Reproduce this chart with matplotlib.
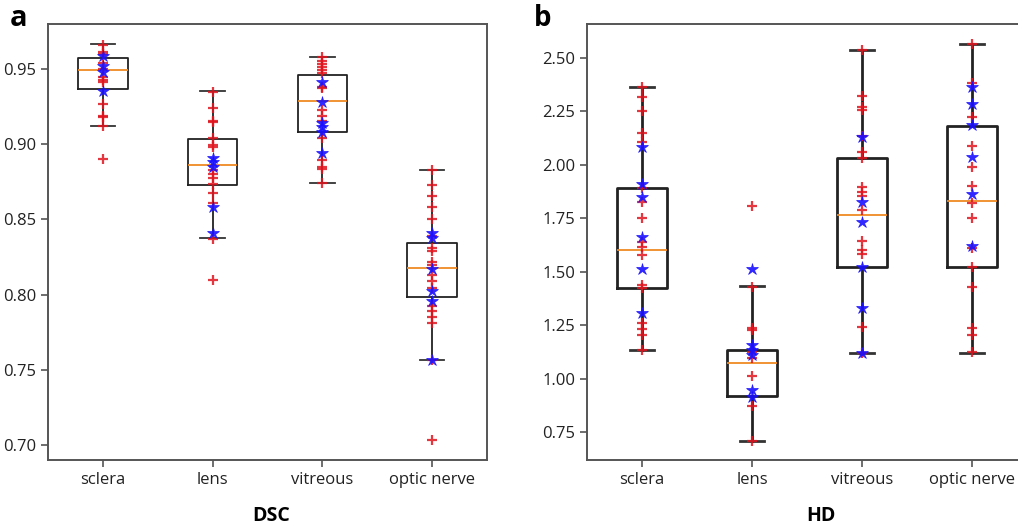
import matplotlib
matplotlib.use('Agg')
import matplotlib.pyplot as plt

plt.rcParams['font.family'] = ['Open Sans', 'DejaVu Sans']

organs = ['sclera', 'lens', 'vitreous', 'optic nerve']

# box statistics (q1, median, q3, whisker ends)
dsc_q1 = [0.937, 0.8728, 0.9082, 0.7982]
dsc_med = [0.9493, 0.8863, 0.929, 0.8174]
dsc_q3 = [0.9575, 0.9035, 0.946, 0.8343]
dsc_lo = [0.912, 0.8376, 0.874, 0.7563]
dsc_hi = [0.9664, 0.9352, 0.9578, 0.8829]

hd_q1 = [1.425, 0.918, 1.523, 1.520]
hd_med = [1.601, 1.074, 1.764, 1.831]
hd_q3 = [1.890, 1.134, 2.032, 2.183]
hd_lo = [1.134, 0.709, 1.121, 1.121]
hd_hi = [2.366, 1.434, 2.539, 2.566]

# individual cases: red plus and blue star markers
dsc_plus = [
    [0.966, 0.9615, 0.960, 0.9538, 0.9498, 0.945, 0.9427, 0.9412, 0.9268, 0.919, 0.918, 0.912, 0.890],
    [0.935, 0.924, 0.9157, 0.915, 0.904, 0.8995, 0.898, 0.883, 0.880, 0.8774, 0.8736, 0.8675, 0.8608, 0.837, 0.810],
    [0.958, 0.9555, 0.9533, 0.9515, 0.9493, 0.9471, 0.9382, 0.9372, 0.9228, 0.9188, 0.9157, 0.904, 0.8896, 0.8852, 0.8834, 0.874],
    [0.883, 0.873, 0.8659, 0.8586, 0.8504, 0.8387, 0.831, 0.8287, 0.822, 0.820, 0.8133, 0.8088, 0.8044, 0.7922, 0.7888, 0.7851, 0.7811, 0.7563, 0.7032],
]
dsc_star = [
    [0.9586, 0.952, 0.948, 0.9354],
    [0.8907, 0.8885, 0.8852, 0.8586, 0.8409],
    [0.9416, 0.9283, 0.914, 0.9113, 0.9084, 0.894],
    [0.8409, 0.8376, 0.817, 0.8021, 0.7955, 0.7568],
]

hd_plus = [
    [2.366, 2.319, 2.252, 2.150, 2.108, 1.890, 1.828, 1.750, 1.640, 1.617, 1.578, 1.438, 1.422, 1.259, 1.232, 1.204, 1.134],
    [1.809, 1.430, 1.235, 1.227, 1.126, 1.095, 1.012, 0.872, 0.709],
    [2.539, 2.324, 2.269, 2.257, 2.135, 2.062, 2.031, 1.895, 1.874, 1.854, 1.789, 1.645, 1.602, 1.583, 1.243, 1.121],
    [2.566, 2.382, 2.225, 2.088, 1.989, 1.901, 1.820, 1.750, 1.609, 1.521, 1.430, 1.235, 1.204, 1.126],
]
hd_star = [
    [2.085, 1.910, 1.848, 1.661, 1.511, 1.305],
    [1.511, 1.157, 1.134, 1.110, 0.946, 0.915],
    [2.129, 1.825, 1.731, 1.521, 1.329, 1.121],
    [2.366, 2.285, 2.186, 2.035, 1.862, 1.621],
]


def draw_panel(ax, q1, med, q3, lo, hi, plus, star, lw):
    stats = []
    for i, name in enumerate(organs):
        stats.append({'label': name, 'q1': q1[i], 'med': med[i], 'q3': q3[i],
                      'whislo': lo[i], 'whishi': hi[i], 'fliers': []})
    ax.bxp(stats, positions=[1, 2, 3, 4], widths=0.45, showfliers=False,
           boxprops=dict(color='#222222', linewidth=lw),
           whiskerprops=dict(color='#222222', linewidth=lw),
           capprops=dict(color='#333333', linewidth=lw),
           medianprops=dict(color='#f08a24', linewidth=1.3))
    for i in range(4):
        ax.plot([i + 1] * len(plus[i]), plus[i], '+', color='#e0141e', ms=7,
                mew=1.6, alpha=0.85, zorder=3)
        ax.plot([i + 1] * len(star[i]), star[i], '*', color='#1a10ff', ms=9,
                mew=0.5, alpha=0.9, zorder=4)
    ax.set_xlim(0.5, 4.5)
    ax.set_xticks([1, 2, 3, 4])
    ax.set_xticklabels(organs, fontsize=12)
    ax.tick_params(axis='y', labelsize=12, colors='#222222')
    ax.tick_params(axis='x', colors='#222222')
    ax.tick_params(length=5, width=1.2, color='#555555')
    for s in ax.spines.values():
        s.set_color('#555555')
        s.set_linewidth(1.4)


fig = plt.figure(figsize=(10.18, 5.29), dpi=100)
ax1 = fig.add_axes([0.0472, 0.1304, 0.4312, 0.8242])
ax2 = fig.add_axes([0.5766, 0.1304, 0.4322, 0.8242])

draw_panel(ax1, dsc_q1, dsc_med, dsc_q3, dsc_lo, dsc_hi, dsc_plus, dsc_star, 1.3)
ax1.set_ylim(0.690, 0.980)
ax1.set_yticks([0.70, 0.75, 0.80, 0.85, 0.90, 0.95])
ax1.set_yticklabels(['0.70', '0.75', '0.80', '0.85', '0.90', '0.95'])

draw_panel(ax2, hd_q1, hd_med, hd_q3, hd_lo, hd_hi, hd_plus, hd_star, 2.0)
ax2.set_ylim(0.619, 2.659)
ax2.set_yticks([0.75, 1.00, 1.25, 1.50, 1.75, 2.00, 2.25, 2.50])
ax2.set_yticklabels(['0.75', '1.00', '1.25', '1.50', '1.75', '2.00', '2.25', '2.50'])

fig.text(0.0098, 0.965, 'a', fontsize=21, fontweight='bold', va='center')
fig.text(0.524, 0.965, 'b', fontsize=20, fontweight='bold', va='center')
fig.text(0.266, 0.025, 'DSC', fontsize=14, fontweight='bold', ha='center', va='center')
fig.text(0.806, 0.025, 'HD', fontsize=14, fontweight='bold', ha='center', va='center')

fig.savefig('out.png', dpi=100)
